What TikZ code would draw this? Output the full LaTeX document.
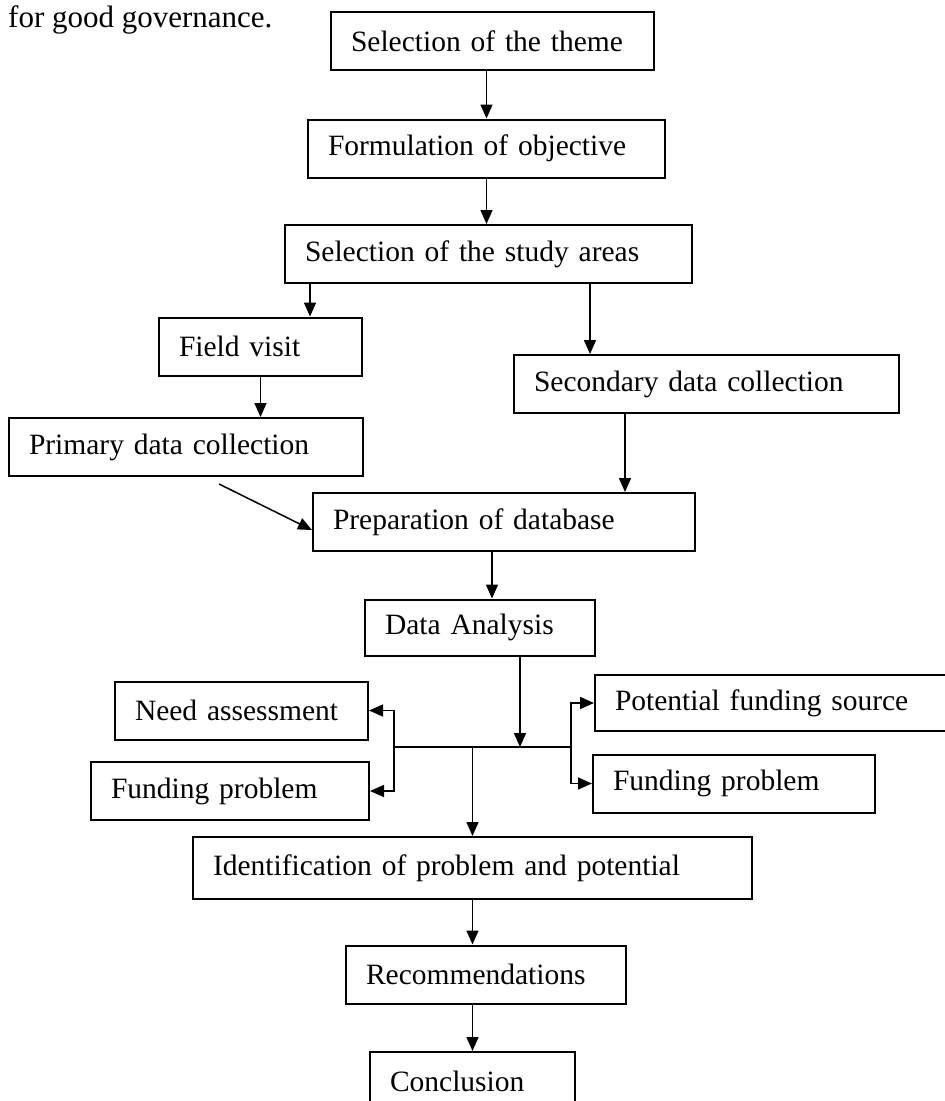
\documentclass[tikz,border=0pt]{standalone}
\usepackage{fontspec}
\setmainfont{Liberation Serif}
\usetikzlibrary{arrows.meta}

\begin{document}
\begin{tikzpicture}[x=1pt, y=-1pt,
    stepbox/.style={draw, line width=2pt, inner xsep=20pt, inner ysep=0pt, minimum height=58pt,
      align=left, text width=#1, font=\fontsize{29.5}{34}\selectfont},
    flow/.style={line width=1.5pt, -{Triangle[length=14pt,width=12pt]}},
    branchline/.style={line width=1.5pt}]
    \useasboundingbox (0,0) rectangle (945,1101);
    \clip (0,0) rectangle (945,1101);
    % Nodes
    \node[anchor=base west, inner sep=0pt, font=\fontsize{31}{36}\selectfont] (lead) at (8,27) {for good governance.};

    \node[stepbox=283pt] (theme) at (492.5,41) {Selection of the theme};
    \node[stepbox=317pt] (objective) at (486.5,148.5) {Formulation of objective};
    \node[stepbox=367pt] (study) at (488.5,254) {Selection of the study areas};

    \node[stepbox=163pt] (field) at (260.5,346.5) {Field visit};
    \node[stepbox=345pt] (secondary) at (706.5,384) {Secondary data collection};
    \node[stepbox=314pt] (primary) at (186,447) {Primary data collection};

    \node[stepbox=342pt] (prep) at (504,522) {Preparation of database};
    \node[stepbox=190pt, minimum height=56pt] (analysis) at (480,627.5) {Data Analysis};

    \node[stepbox=213pt] (need) at (241.5,710.5) {Need assessment};
    \node[stepbox=238pt] (fundl) at (230,791) {Funding problem};
    \node[stepbox=315pt, minimum height=56pt] (potential) at (772.5,703) {Potential funding source};
    \node[stepbox=242pt] (fundr) at (734,783.5) {Funding problem};

    \node[stepbox=519pt, minimum height=62pt] (ident) at (472.5,868) {Identification of problem and potential};
    \node[stepbox=240pt] (recom) at (486,974.5) {Recommendations};
    \node[stepbox=165pt] (concl) at (472.5,1081) {Conclusion};
    % Connection
    \draw[flow] (theme.south -| objective.north) -- (objective.north);
    \draw[flow] (objective.south) -- (objective.south |- study.north);
    \draw[flow] ([xshift=26pt]study.south west) -- ([xshift=26pt]study.south west |- field.north);
    \draw[flow] ([xshift=-103pt]study.south east) -- ([xshift=-103pt]study.south east |- secondary.north);
    \draw[flow] (field.south) -- (field.south |- primary.north);
    \draw[flow] ([xshift=112pt]secondary.south west) -- ([xshift=112pt]secondary.south west |- prep.north);
    \draw[flow] ([shift={(33,7)}]primary.south) -- ([shift={(0,8)}]prep.west);
    \draw[flow] ([xshift=-12pt]prep.south) -- ([xshift=-12pt]prep.south |- analysis.north);

    \coordinate (jl) at (394,747);
    \coordinate (jr) at (571,747);
    \draw[branchline] (jl) -- (jr);
    \draw[flow] ([xshift=40pt]analysis.south) -- ([xshift=40pt]analysis.south |- jl);
    \draw[flow] (jl) -- (jl |- need.east) -- (need.east);
    \draw[flow] (jl) -- (jl |- fundl.east) -- (fundl.east);
    \draw[flow] (jr) -- (jr |- potential.west) -- (potential.west);
    \draw[flow] (jr) -- (jr |- fundr.west) -- (fundr.west);

    \draw[flow] (jl -| ident.north) -- (ident.north);
    \draw[flow] (ident.south) -- (ident.south |- recom.north);
    \draw[flow] (concl.north |- recom.south) -- (concl.north);
\end{tikzpicture}
\end{document}
